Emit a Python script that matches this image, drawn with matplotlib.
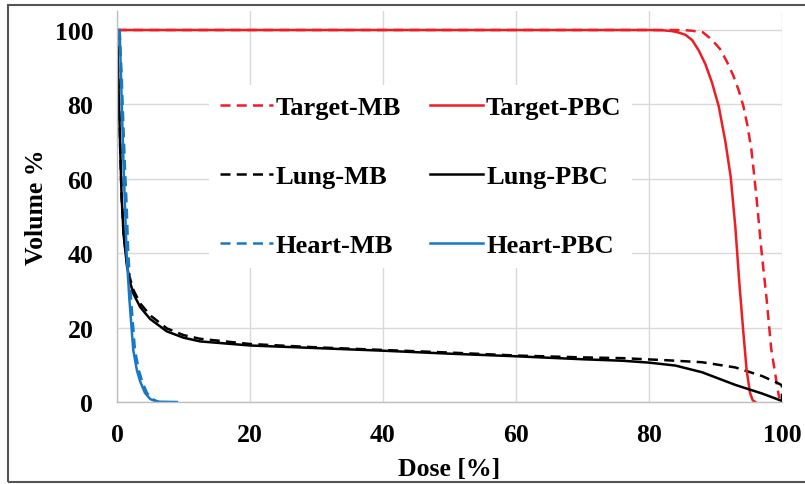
import numpy as np
import matplotlib
matplotlib.use("Agg")
import matplotlib.pyplot as plt
from matplotlib.patches import Rectangle

# DVH curves (dose %, volume %)
target_mb_dose = [0, 84, 85.5, 86.5, 87.3, 88.1, 89.4, 90.7, 91.7, 92.7, 93.5, 94.2, 94.8,
                  95.4, 95.8, 96.2, 96.9, 97.7, 98.4, 99.2, 99.6]
target_mb_vol = [100, 100, 99.95, 99.8, 99.6, 99.4, 97.5, 94.9, 91.6, 87.7, 83.8, 79.6, 74.5,
                 68, 61.5, 54.6, 41.1, 27.7, 14.2, 5.3, 1.0]

target_pbc_dose = [0, 80, 82, 83.5, 84.5, 85.5, 86.5, 87.5, 88.5, 89.5, 90.5, 91.5, 92.3,
                   93.0, 93.6, 94.2, 94.7, 95.2, 95.6, 96.0]
target_pbc_vol = [100, 100, 99.95, 99.7, 99.3, 98.7, 97.3, 94.5, 90.8, 85.8, 79.5, 70, 60.5,
                  47, 32, 18.8, 8.5, 2.5, 0.5, 0]

lung_mb_dose = [0, 0.3, 0.7, 1.0, 1.5, 2.0, 2.5, 3.5, 5, 7.5, 10, 12.5, 20, 30, 40, 50,
                60, 70, 76, 83, 88, 93, 97, 99.5, 100, 100]
lung_mb_vol = [100, 80, 55, 45, 37.5, 33, 30, 26.5, 23.3, 19.8, 18, 17, 15.6, 14.7, 14, 13.3,
               12.5, 12, 11.8, 11.2, 10.7, 9.3, 7, 5, 4.5, 0]

lung_pbc_dose = [0, 0.3, 0.7, 1.0, 1.5, 2.0, 2.5, 3.5, 5, 7.5, 10, 12.5, 20, 30, 40, 50,
                 60, 70, 76, 80, 84, 88, 93, 97, 100]
lung_pbc_vol = [100, 80, 55, 45, 36.6, 32, 29, 25.5, 22.3, 19, 17.3, 16.3, 15.2, 14.5, 13.8, 13,
                12.3, 11.5, 11.1, 10.6, 9.8, 8, 4.6, 2.3, 0.3]

heart_mb_dose = [0.4, 0.7, 0.95, 1.2, 1.45, 1.7, 2.1, 2.7, 3.3, 3.8, 4.5, 5.3, 6.3]
heart_mb_vol = [100, 88, 75, 63, 53, 40, 28, 14, 8.5, 5.5, 2.5, 0.8, 0]

heart_pbc_dose = [0.4, 0.6, 0.8, 1.0, 1.2, 1.45, 1.85, 2.45, 3.0, 3.5, 4.2, 5.0, 6.0, 9.0]
heart_pbc_vol = [100, 88, 75, 63, 53, 40, 28, 14, 8.5, 5.5, 2.5, 0.8, 0.1, 0]

x_ticks = [0, 20, 40, 60, 80, 100]
y_ticks = [0, 20, 40, 60, 80, 100]

red = "#ee1c25"
black = "#000000"
blue = "#1878c8"

plt.rcParams["font.family"] = ["Liberation Serif", "DejaVu Serif"]
plt.rcParams["font.weight"] = "bold"

fig = plt.figure(figsize=(8.05, 4.85), dpi=100)
ax = fig.add_axes([0.1453, 0.169, 0.826, 0.8054])

lw = 1.8
dash = (4, 2.5)
ax.plot(target_mb_dose, target_mb_vol, color=red, lw=lw, dashes=dash, label="Target-MB")
ax.plot(lung_mb_dose, lung_mb_vol, color=black, lw=lw, dashes=dash, label="Lung-MB")
ax.plot(heart_mb_dose, heart_mb_vol, color=blue, lw=lw, dashes=dash, label="Heart-MB")
ax.plot(target_pbc_dose, target_pbc_vol, color=red, lw=lw, label="Target-PBC")
ax.plot(lung_pbc_dose, lung_pbc_vol, color=black, lw=lw, label="Lung-PBC")
ax.plot(heart_pbc_dose, heart_pbc_vol, color=blue, lw=lw, label="Heart-PBC")

ax.set_xlim(0, 100)
ax.set_ylim(0, 105)
ax.set_xticks(x_ticks)
ax.set_yticks(y_ticks)
ax.tick_params(length=0, labelsize=18.5)
ax.tick_params(axis="x", pad=15)
ax.tick_params(axis="y", pad=17)
ax.grid(True, color="#d9d9d9", lw=1)
ax.set_axisbelow(True)
for s in ["top", "right"]:
    ax.spines[s].set_visible(False)
for s in ["left", "bottom"]:
    ax.spines[s].set_color("#bfbfbf")
    ax.spines[s].set_linewidth(1)

ax.set_xlabel("Dose [%]", fontsize=18.5, fontweight="bold", labelpad=8)
ax.set_ylabel("Volume %", fontsize=18.5, fontweight="bold", labelpad=5)

leg = ax.legend(ncol=2, loc="upper left", bbox_to_anchor=(196 / 805, 1 - 73 / 485),
                bbox_transform=fig.transFigure, fontsize=19, frameon=True,
                facecolor="white", edgecolor="none", framealpha=1, fancybox=False,
                handlelength=2.0, handletextpad=0.12, columnspacing=1.1,
                labelspacing=1.72, borderpad=0.4)

# outer frame around the picture
fig.patches.append(Rectangle((8 / 805, 2 / 485), 1.0, 477 / 485, transform=fig.transFigure,
                             fill=False, edgecolor="#555555", lw=1.5))

fig.savefig("out.png", dpi=100)
